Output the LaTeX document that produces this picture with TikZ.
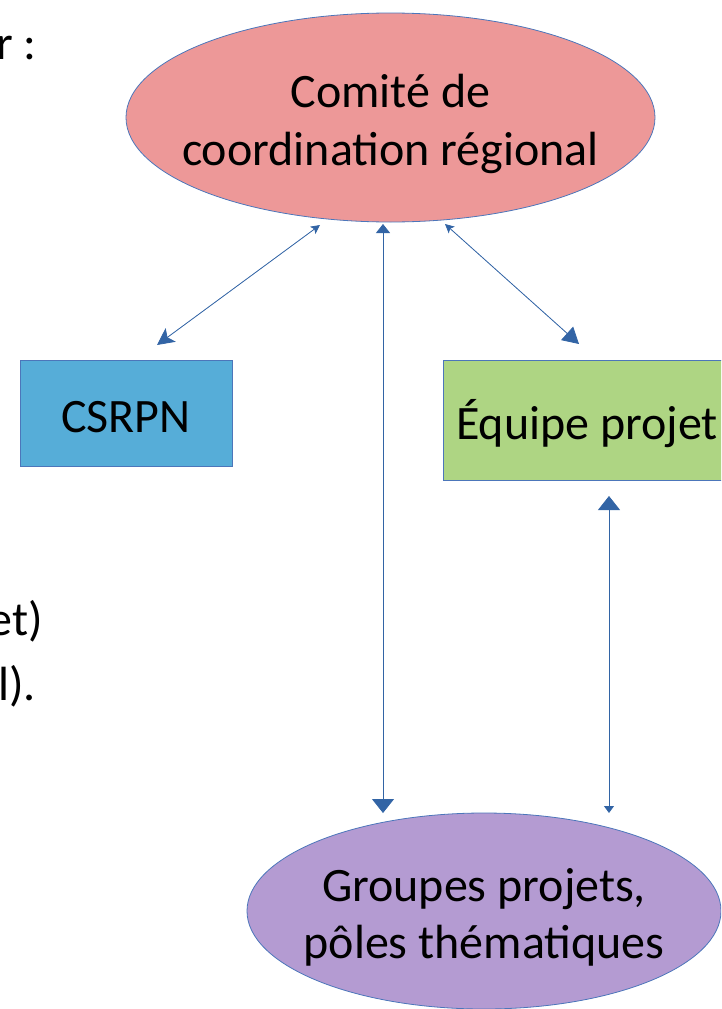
\documentclass[tikz,border=0pt]{standalone}
\usepackage{fontspec}
\setmainfont{Carlito}
\usetikzlibrary{shapes.geometric,arrows.meta,calc}
\definecolor{pinkfill}{RGB}{237,152,152}
\definecolor{bluefill}{RGB}{86,173,216}
\definecolor{greenfill}{RGB}{174,213,131}
\definecolor{purplefill}{RGB}{180,155,210}
\definecolor{bordercol}{RGB}{76,118,186}
\definecolor{arrowcol}{RGB}{50,100,165}
\tikzset{
  bigfont/.style={font=\fontsize{48pt}{58pt}\selectfont, text=black},
  boxnode/.style={bigfont, rectangle, draw=bordercol, line width=0.8pt, inner sep=0pt, outer sep=0pt, text height=48pt, text depth=10pt},
  ovalnode/.style={bigfont, ellipse, draw=bordercol, line width=0.8pt, inner xsep=-130pt, inner ysep=0pt, outer sep=0pt, align=center},
  sidetext/.style={bigfont, inner sep=0pt, anchor=base east},
  link/.style={draw=arrowcol, fill=arrowcol, line width=0.8pt},
}
\begin{document}
\begin{tikzpicture}[x=1pt,y=-1pt]
\useasboundingbox (0,0) rectangle (721,1009);
\clip (0,0) rectangle (721,1009);

% left text fragments
\node[sidetext] (frag1) at (37,59) {r :};
\node[sidetext] (frag2) at (43,635) {et)};
\node[sidetext] (frag3) at (36,700) {l).};

% nodes
\node[ovalnode, fill=pinkfill, minimum width=529pt, minimum height=209pt] (comite) at (390.5,117.5)
  {\rule{0pt}{48pt}Comité de\\coordination régional\rule[-10pt]{0pt}{10pt}};
\node[boxnode, fill=bluefill, minimum width=212pt, minimum height=106pt] (csrpn) at (126,413) {CSRPN};
\node[boxnode, fill=greenfill, minimum width=288pt, minimum height=120pt] (equipe) at (587,420) {Équipe projet};
\node[ovalnode, fill=purplefill, minimum width=474pt, minimum height=196pt, font=\fontsize{48pt}{57pt}\selectfont] (groupes) at (484,911)
  {\rule{0pt}{48pt}Groupes projets,\\pôles thématiques\rule[-10pt]{0pt}{10pt}};

% connectors
\draw[link, {Stealth[width=9pt,length=9pt,inset=2pt]}-{Stealth[width=17pt,length=17pt,inset=4pt]}]
  ($(comite.south)+(-70.5,3)$) -- ($(csrpn.north)+(31,-15)$);
\draw[link, {Triangle[width=14pt,length=9pt]}-{Triangle[width=22pt,length=14pt]}]
  ($(comite.south)+(-7.5,2)$) -- ($(groupes.north)+(-101,0)$);
\draw[link, {Stealth[width=9pt,length=9pt,inset=2pt]}-{Triangle[width=18pt,length=16pt]}]
  ($(comite.south)+(54.5,2)$) -- ($(equipe.north)+(-8,-16)$);
\draw[link, {Triangle[width=22pt,length=14pt]}-{Triangle[width=10pt,length=7pt]}]
  ($(equipe.south)+(22,16)$) -- ($(groupes.north)+(125,0)$);
\end{tikzpicture}
\end{document}
